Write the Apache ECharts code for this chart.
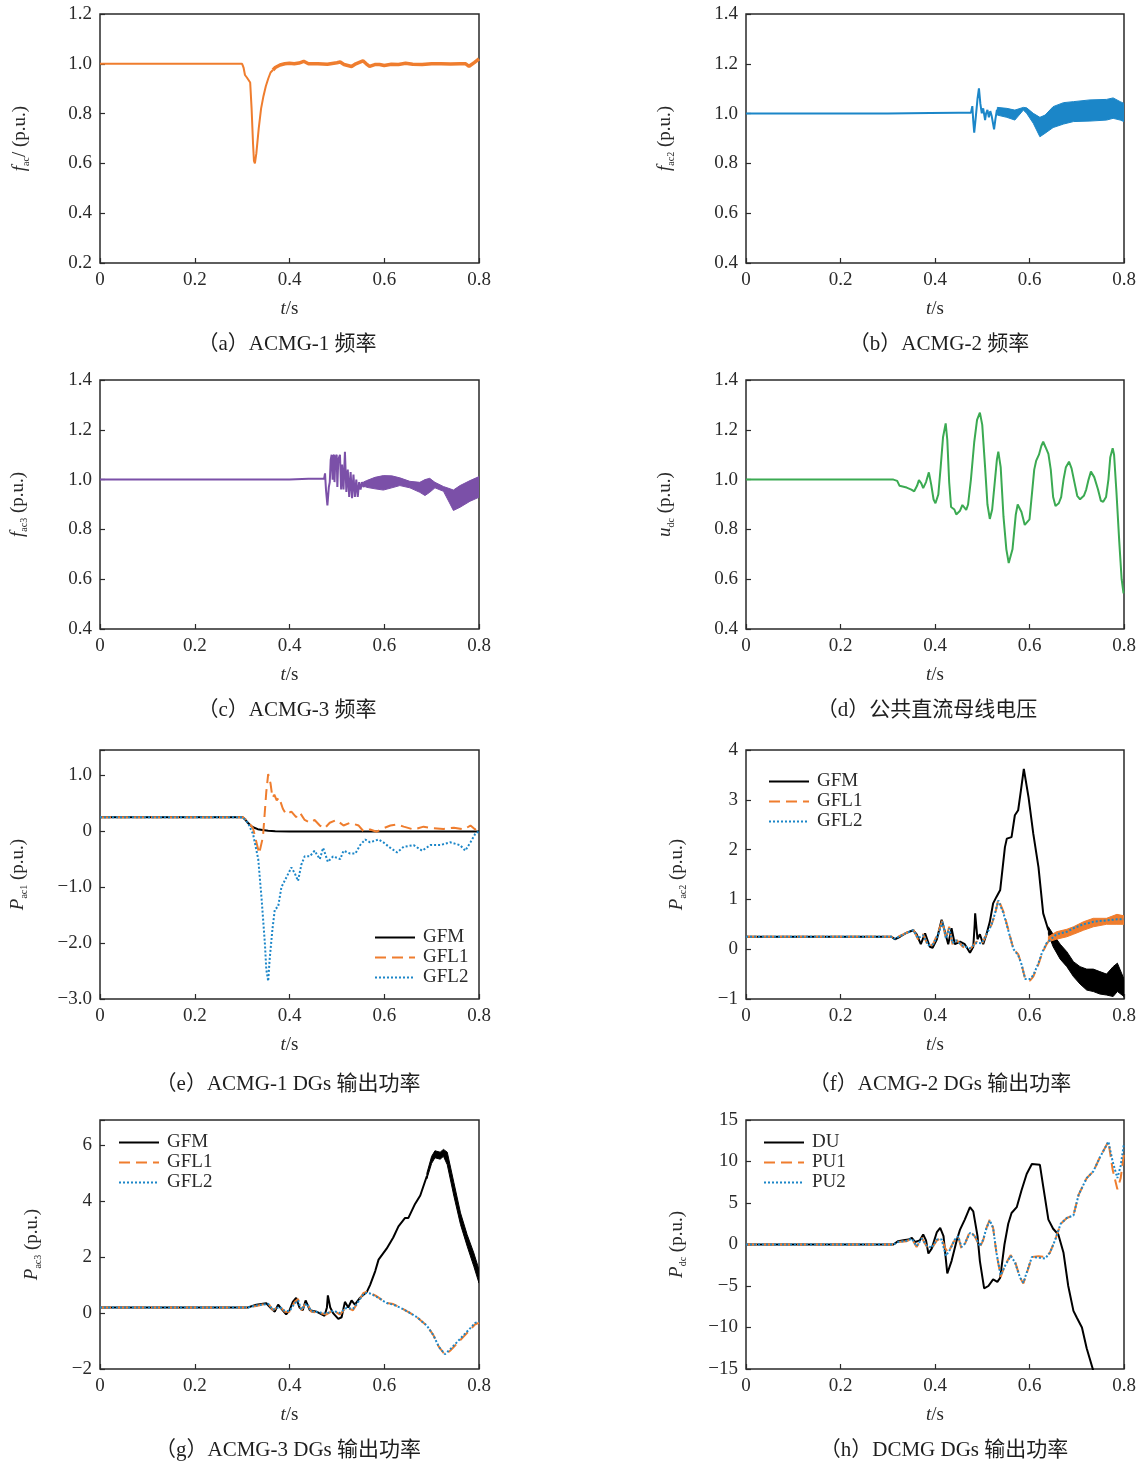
<!DOCTYPE html>
<html><head><meta charset="utf-8">
<script src="https://cdn.jsdelivr.net/npm/echarts@6/dist/echarts.min.js"></script>
<style>html,body{margin:0;padding:0;background:#fff}#c{width:1143px;height:1461px}</style>
</head><body><div id="c"></div>
<script>
// ---------- data (t in s, values in p.u.) ----------
const xTicks = [0, 0.2, 0.4, 0.6, 0.8];
const captions = ['（a）ACMG-1 频率','（b）ACMG-2 频率','（c）ACMG-3 频率','（d）公共直流母线电压',
  '（e）ACMG-1 DGs 输出功率','（f）ACMG-2 DGs 输出功率','（g）ACMG-3 DGs 输出功率','（h）DCMG DGs 输出功率'];
const legendAC = ['GFM','GFL1','GFL2'];
const legendDC = ['DU','PU1','PU2'];

// (a) f_ac1
const fac1Pre = [[0,1.0],[0.30,1.0],[0.303,0.985],[0.306,0.955],[0.310,0.945],[0.314,0.94],[0.317,0.925],[0.320,0.82],[0.323,0.68],[0.325,0.61],[0.327,0.60],[0.330,0.64],[0.335,0.74],[0.340,0.82],[0.345,0.87],[0.350,0.91],[0.355,0.94],[0.360,0.965],[0.365,0.975]];
const fac1Post = [[0.365,0.975],[0.37,0.985],[0.38,0.995],[0.39,1.0],[0.40,1.002],[0.41,1.0],[0.42,1.003],[0.43,1.01],[0.44,1.0],[0.46,1.0],[0.48,0.998],[0.50,1.004],[0.507,1.007],[0.515,0.997],[0.531,0.989],[0.54,1.0],[0.555,1.012],[0.562,1.0],[0.569,0.99],[0.58,0.997],[0.59,0.997],[0.60,0.993],[0.615,0.998],[0.63,0.997],[0.645,1.002],[0.66,0.998],[0.68,0.997],[0.70,1.0],[0.72,1.0],[0.74,0.999],[0.76,1.0],[0.772,1.0],[0.779,0.99],[0.79,1.005],[0.80,1.02]];

// (b) f_ac2
const fac2Line = [[0,1.0],[0.30,1.0],[0.39,1.002],[0.45,1.003],[0.476,1.003],[0.479,1.03],[0.481,0.97],[0.483,0.923],[0.486,0.98],[0.490,1.06],[0.493,1.101],[0.496,1.04],[0.499,1.001],[0.502,1.021],[0.506,0.974],[0.508,1.0],[0.511,1.015],[0.514,0.985],[0.517,1.01],[0.520,0.99],[0.525,0.937],[0.528,0.98],[0.531,1.015],[0.534,1.005]];
const fac2Up = [[0.532,1.025],[0.552,1.021],[0.569,1.014],[0.587,1.025],[0.594,1.023],[0.608,1.001],[0.622,0.985],[0.633,0.994],[0.65,1.028],[0.672,1.044],[0.693,1.048],[0.728,1.055],[0.763,1.057],[0.777,1.063],[0.792,1.048],[0.80,1.041]];
const fac2Lo = [[0.532,0.994],[0.552,0.985],[0.569,0.974],[0.587,1.014],[0.594,1.001],[0.608,0.961],[0.622,0.907],[0.633,0.921],[0.65,0.944],[0.672,0.958],[0.693,0.968],[0.728,0.970],[0.763,0.974],[0.777,0.981],[0.792,0.974],[0.80,0.968]];

// (c) f_ac3
const fac3Line = [[0,1.0],[0.40,1.0],[0.44,1.003],[0.473,1.003],[0.475,1.025],[0.477,0.96],[0.480,0.896],[0.483,0.97],[0.485,0.99],[0.487,1.08],[0.489,1.10],[0.491,1.0],[0.492,1.09],[0.494,1.10],[0.495,0.99],[0.497,1.09],[0.4996,1.10],[0.501,0.97],[0.503,1.08],[0.5065,1.10],[0.509,0.96],[0.511,1.06],[0.514,0.96],[0.517,1.112],[0.520,0.95],[0.523,1.04],[0.526,0.93],[0.529,1.03],[0.532,0.925],[0.535,1.02],[0.538,0.93],[0.541,1.0],[0.544,0.93],[0.547,0.99],[0.550,0.96],[0.553,0.99],[0.556,0.97],[0.56,0.985]];
const fac3Up = [[0.556,0.99],[0.5628,0.996],[0.5804,1.009],[0.598,1.016],[0.616,1.015],[0.633,1.007],[0.654,0.993],[0.675,0.989],[0.686,1.0],[0.696,1.005],[0.707,0.989],[0.725,0.972],[0.739,0.963],[0.746,0.958],[0.76,0.976],[0.781,0.996],[0.80,1.012]];
const fac3Lo = [[0.556,0.975],[0.5628,0.969],[0.5804,0.963],[0.598,0.958],[0.616,0.967],[0.633,0.976],[0.654,0.967],[0.675,0.949],[0.686,0.936],[0.696,0.949],[0.707,0.967],[0.725,0.953],[0.739,0.902],[0.746,0.876],[0.76,0.889],[0.781,0.913],[0.80,0.929]];

// (d) u_dc
const udc = [[0,1.0],[0.30,1.0],[0.312,1.0],[0.316,1.005],[0.32,0.995],[0.325,0.975],[0.34,0.968],[0.35,0.96],[0.356,0.953],[0.362,0.975],[0.366,0.998],[0.371,0.985],[0.375,0.966],[0.381,0.99],[0.387,1.029],[0.392,0.98],[0.397,0.92],[0.401,0.905],[0.407,0.94],[0.412,1.05],[0.417,1.17],[0.4226,1.226],[0.426,1.16],[0.43,0.99],[0.434,0.89],[0.437,0.885],[0.441,0.88],[0.445,0.86],[0.449,0.854],[0.453,0.875],[0.458,0.898],[0.462,0.89],[0.466,0.878],[0.47,0.9],[0.476,1.0],[0.483,1.15],[0.489,1.24],[0.495,1.269],[0.5,1.22],[0.506,1.05],[0.511,0.9],[0.516,0.842],[0.521,0.88],[0.527,1.0],[0.531,1.08],[0.534,1.112],[0.539,1.05],[0.545,0.85],[0.551,0.72],[0.556,0.665],[0.5587,0.657],[0.564,0.72],[0.571,0.86],[0.575,0.9],[0.578,0.907],[0.583,0.87],[0.59,0.818],[0.594,0.811],[0.6,0.84],[0.606,0.96],[0.61,1.04],[0.614,1.075],[0.62,1.1],[0.625,1.135],[0.629,1.152],[0.634,1.13],[0.64,1.103],[0.645,1.04],[0.65,0.93],[0.655,0.894],[0.662,0.905],[0.667,0.93],[0.672,1.0],[0.677,1.05],[0.6836,1.072],[0.689,1.045],[0.695,0.99],[0.701,0.935],[0.707,0.921],[0.715,0.935],[0.72,0.96],[0.725,1.0],[0.73,1.032],[0.737,1.01],[0.745,0.96],[0.751,0.915],[0.756,0.911],[0.762,0.93],[0.767,1.0],[0.771,1.09],[0.776,1.126],[0.779,1.1],[0.784,0.95],[0.79,0.75],[0.795,0.6],[0.799,0.543]];

// (e) P_ac1
const pac1GFM = [[0,0.25],[0.301,0.25],[0.306,0.21],[0.312,0.15],[0.318,0.10],[0.323,0.07],[0.333,0.035],[0.343,0.02],[0.355,0.008],[0.37,0.0],[0.40,-0.005],[0.50,-0.005],[0.60,-0.005],[0.70,-0.005],[0.80,-0.005]];
const pac1GFL1 = [[0,0.25],[0.301,0.25],[0.312,0.18],[0.323,0.05],[0.336,-0.40],[0.344,-0.1],[0.351,0.7],[0.355,1.02],[0.360,0.85],[0.364,0.6],[0.368,0.65],[0.373,0.55],[0.378,0.6],[0.386,0.4],[0.393,0.3],[0.404,0.35],[0.414,0.25],[0.422,0.33],[0.432,0.2],[0.443,0.15],[0.453,0.2],[0.464,0.1],[0.474,0.05],[0.485,0.15],[0.499,0.2],[0.514,0.1],[0.528,0.15],[0.546,0.1],[0.556,0.0],[0.570,0.03],[0.584,-0.01],[0.598,0.05],[0.613,0.1],[0.627,0.12],[0.641,0.08],[0.662,0.03],[0.683,0.08],[0.704,0.05],[0.725,0.04],[0.747,0.06],[0.768,0.03],[0.782,0.1],[0.792,0.03],[0.80,0.05]];
const pac1GFL2 = [[0,0.25],[0.301,0.25],[0.312,0.15],[0.323,-0.05],[0.334,-0.5],[0.341,-1.2],[0.348,-2.0],[0.351,-2.47],[0.355,-2.68],[0.358,-2.3],[0.364,-1.75],[0.369,-1.4],[0.376,-1.35],[0.383,-1.0],[0.392,-0.85],[0.404,-0.65],[0.411,-0.75],[0.418,-0.89],[0.425,-0.6],[0.432,-0.45],[0.443,-0.45],[0.453,-0.35],[0.464,-0.5],[0.471,-0.3],[0.481,-0.55],[0.492,-0.45],[0.507,-0.5],[0.514,-0.35],[0.528,-0.4],[0.539,-0.4],[0.549,-0.25],[0.56,-0.15],[0.57,-0.2],[0.588,-0.15],[0.598,-0.2],[0.613,-0.3],[0.627,-0.38],[0.641,-0.28],[0.662,-0.25],[0.68,-0.35],[0.697,-0.25],[0.718,-0.25],[0.739,-0.2],[0.76,-0.25],[0.771,-0.35],[0.782,-0.2],[0.792,-0.05],[0.80,0.0]];

// (f) P_ac2
const pac2GFM = [[0,0.25],[0.308,0.25],[0.315,0.2],[0.326,0.25],[0.34,0.33],[0.354,0.38],[0.361,0.3],[0.37,0.1],[0.379,0.32],[0.389,0.05],[0.395,0.03],[0.404,0.2],[0.414,0.59],[0.421,0.35],[0.428,0.1],[0.435,0.42],[0.442,0.1],[0.453,0.15],[0.463,0.1],[0.474,-0.07],[0.481,0.05],[0.484,0.5],[0.485,0.72],[0.488,0.4],[0.49,0.2],[0.495,0.3],[0.502,0.1],[0.509,0.3],[0.516,0.55],[0.523,0.92],[0.530,1.05],[0.538,1.19],[0.548,2.05],[0.552,2.22],[0.562,2.25],[0.569,2.69],[0.576,2.79],[0.582,3.2],[0.588,3.62],[0.598,3.05],[0.608,2.32],[0.619,1.65],[0.629,0.72],[0.640,0.38]];
const pac2GFMUp = [[0.640,0.45],[0.65,0.3],[0.665,0.1],[0.679,-0.05],[0.693,-0.25],[0.707,-0.35],[0.721,-0.4],[0.735,-0.4],[0.749,-0.45],[0.763,-0.5],[0.777,-0.35],[0.786,-0.28],[0.80,-0.6]];
const pac2GFMLo = [[0.640,0.30],[0.65,0.05],[0.665,-0.2],[0.679,-0.35],[0.693,-0.55],[0.707,-0.7],[0.721,-0.82],[0.735,-0.85],[0.749,-0.9],[0.763,-0.92],[0.777,-0.95],[0.786,-0.85],[0.80,-0.95]];
const pac2GFL1 = [[0,0.25],[0.308,0.25],[0.315,0.22],[0.34,0.33],[0.354,0.4],[0.364,0.2],[0.375,0.3],[0.386,0.05],[0.396,0.1],[0.407,0.35],[0.416,0.58],[0.423,0.2],[0.43,0.45],[0.437,0.1],[0.444,0.2],[0.459,0.05],[0.474,0.0],[0.488,0.15],[0.499,0.1],[0.509,0.3],[0.52,0.5],[0.527,0.7],[0.534,1.0],[0.545,0.75],[0.555,0.4],[0.566,0.0],[0.576,-0.1],[0.583,-0.3],[0.591,-0.6],[0.601,-0.63],[0.608,-0.55],[0.619,-0.3],[0.626,-0.1],[0.636,0.1],[0.645,0.22]];
const pac2GFL1Up = [[0.640,0.25],[0.657,0.35],[0.679,0.4],[0.693,0.45],[0.714,0.55],[0.735,0.62],[0.763,0.62],[0.785,0.7],[0.80,0.67]];
const pac2GFL1Lo = [[0.640,0.15],[0.657,0.2],[0.679,0.25],[0.693,0.3],[0.714,0.38],[0.735,0.45],[0.763,0.5],[0.785,0.5],[0.80,0.5]];
const pac2GFL2 = [[0,0.25],[0.308,0.25],[0.315,0.21],[0.34,0.33],[0.354,0.38],[0.364,0.22],[0.375,0.28],[0.386,0.08],[0.396,0.1],[0.407,0.3],[0.416,0.55],[0.423,0.22],[0.43,0.42],[0.437,0.12],[0.444,0.18],[0.459,0.07],[0.474,0.02],[0.488,0.13],[0.499,0.12],[0.509,0.3],[0.52,0.5],[0.527,0.72],[0.534,0.98],[0.545,0.72],[0.555,0.38],[0.566,0.0],[0.576,-0.12],[0.583,-0.3],[0.591,-0.6],[0.601,-0.6],[0.608,-0.52],[0.619,-0.28],[0.626,-0.08],[0.636,0.12],[0.657,0.3],[0.679,0.35],[0.693,0.42],[0.714,0.5],[0.735,0.55],[0.763,0.58],[0.785,0.6],[0.80,0.6]];

// (g) P_ac3
const pac3GFM = [[0,0.2],[0.312,0.2],[0.316,0.15],[0.33,0.3],[0.351,0.35],[0.362,0.15],[0.369,0.05],[0.376,0.3],[0.383,0.15],[0.393,-0.05],[0.4,0.1],[0.407,0.4],[0.414,0.54],[0.421,0.2],[0.428,0.1],[0.434,0.45],[0.443,0.1],[0.457,0.05],[0.474,-0.1],[0.479,0.2],[0.481,0.63],[0.486,0.2],[0.492,0.0],[0.503,-0.21],[0.51,-0.15],[0.517,0.4],[0.524,0.2],[0.531,0.45],[0.538,0.3],[0.549,0.55],[0.563,0.75],[0.57,1.0],[0.581,1.5],[0.588,1.91],[0.605,2.3],[0.619,2.7],[0.63,3.1],[0.644,3.4],[0.651,3.4],[0.665,3.9],[0.676,4.2],[0.69,4.9]];
const pac3GFMUp = [[0.69,5.0],[0.70,5.6],[0.707,5.8],[0.718,5.75],[0.725,5.85],[0.733,5.75],[0.747,4.66],[0.761,3.58],[0.775,2.8],[0.789,2.15],[0.80,1.55]];
const pac3GFMLo = [[0.69,4.8],[0.70,5.35],[0.707,5.55],[0.718,5.5],[0.725,5.6],[0.733,5.3],[0.747,4.18],[0.761,3.16],[0.775,2.39],[0.789,1.67],[0.80,1.07]];
const pac3GFL1 = [[0,0.2],[0.312,0.2],[0.33,0.25],[0.355,0.35],[0.365,0.1],[0.379,0.25],[0.39,0.05],[0.4,0.05],[0.411,0.4],[0.418,0.5],[0.425,0.1],[0.436,0.4],[0.446,0.05],[0.464,0.0],[0.478,-0.05],[0.492,0.1],[0.506,-0.05],[0.52,0.2],[0.534,0.1],[0.545,0.4],[0.556,0.72],[0.563,0.75],[0.57,0.72],[0.584,0.6],[0.605,0.36],[0.619,0.32],[0.633,0.2],[0.655,0.0],[0.669,-0.15],[0.69,-0.45],[0.704,-0.8],[0.715,-1.2],[0.728,-1.49],[0.739,-1.35],[0.753,-1.1],[0.767,-0.85],[0.781,-0.6],[0.792,-0.4],[0.80,-0.35]];
const pac3GFL2 = [[0,0.2],[0.312,0.2],[0.33,0.27],[0.355,0.33],[0.365,0.12],[0.379,0.22],[0.39,0.08],[0.4,0.07],[0.411,0.35],[0.418,0.45],[0.425,0.12],[0.436,0.35],[0.446,0.07],[0.464,0.02],[0.478,-0.02],[0.492,0.08],[0.506,0.0],[0.52,0.18],[0.534,0.15],[0.545,0.4],[0.556,0.68],[0.563,0.72],[0.57,0.7],[0.584,0.58],[0.605,0.36],[0.619,0.3],[0.633,0.2],[0.655,0.0],[0.669,-0.15],[0.69,-0.45],[0.704,-0.8],[0.715,-1.2],[0.728,-1.47],[0.739,-1.3],[0.753,-1.05],[0.767,-0.8],[0.781,-0.55],[0.792,-0.35],[0.80,-0.3]];

// (h) P_dc
const pdcDU = [[0,0],[0.312,0],[0.322,0.4],[0.333,0.5],[0.344,0.6],[0.351,0.8],[0.358,0.3],[0.368,0.5],[0.375,1.2],[0.381,0.5],[0.386,-1.08],[0.393,-0.5],[0.404,1.5],[0.411,2.0],[0.418,1.0],[0.426,-3.49],[0.435,-2.0],[0.446,0.5],[0.453,1.8],[0.463,3.0],[0.474,4.49],[0.481,4.0],[0.49,1.0],[0.495,-2.0],[0.504,-5.29],[0.513,-5.0],[0.523,-4.2],[0.532,-4.5],[0.538,-4.0],[0.547,0.0],[0.555,2.5],[0.562,3.8],[0.573,4.5],[0.583,6.5],[0.594,8.5],[0.605,9.7],[0.622,9.6],[0.629,7.0],[0.64,3.0],[0.65,1.9],[0.661,1.2],[0.672,-1.0],[0.682,-5.0],[0.693,-8.0],[0.7,-8.8],[0.711,-10.0],[0.721,-12.5],[0.735,-15.2],[0.74,-16.5]];
const pdcPU1 = [[0,0],[0.312,0],[0.322,0.3],[0.34,0.4],[0.351,0.7],[0.361,-0.3],[0.372,0.8],[0.382,-0.2],[0.393,-0.5],[0.404,0.5],[0.414,0.8],[0.421,-0.4],[0.428,-1.0],[0.439,0.3],[0.449,1.0],[0.456,-0.5],[0.463,0.0],[0.474,1.6],[0.484,1.0],[0.495,-0.3],[0.502,0.5],[0.509,2.0],[0.516,3.0],[0.523,2.0],[0.53,-1.0],[0.539,-3.89],[0.548,-2.5],[0.56,-1.28],[0.569,-2.0],[0.58,-4.0],[0.587,-4.69],[0.594,-3.5],[0.605,-1.5],[0.619,-1.4],[0.633,-1.5],[0.643,-1.0],[0.654,0.5],[0.666,2.5],[0.679,3.2],[0.693,3.5],[0.704,6.0],[0.721,8.0],[0.735,8.8],[0.749,10.5],[0.767,12.4],[0.776,9.0],[0.786,6.65],[0.793,8.0],[0.80,11.0]];
const pdcPU2 = [[0,0],[0.312,0],[0.322,0.3],[0.34,0.45],[0.351,0.7],[0.361,-0.2],[0.372,0.7],[0.382,-0.1],[0.393,-0.4],[0.404,0.6],[0.414,0.6],[0.423,-1.36],[0.432,-0.6],[0.442,0.6],[0.449,1.0],[0.456,-0.3],[0.463,0.1],[0.474,1.4],[0.484,1.1],[0.495,-0.2],[0.502,0.6],[0.509,2.0],[0.516,2.9],[0.523,2.0],[0.53,-1.0],[0.539,-3.7],[0.548,-2.6],[0.56,-1.4],[0.569,-2.1],[0.58,-4.0],[0.587,-4.6],[0.594,-3.4],[0.605,-1.5],[0.622,-1.6],[0.633,-1.7],[0.643,-1.0],[0.654,0.5],[0.666,2.5],[0.679,3.2],[0.693,3.5],[0.704,6.0],[0.721,8.0],[0.735,8.8],[0.749,10.5],[0.767,12.4],[0.776,10.0],[0.786,8.0],[0.793,9.5],[0.80,12.2]];

// ---------- styling ----------
const FONT = '"Liberation Serif","Times New Roman",serif';
const CJK = '"Liberation Serif","Noto Sans CJK SC",serif';
const INK = '#2a2a2a';
const ORANGE = '#EF7D2E', BLUE = '#1B86C8', PURPLE = '#7B50A8', GREEN = '#3BAA52', BLACK = '#000';
const rich = {
  i: {fontFamily: FONT, fontStyle: 'italic', fontSize: 19, lineHeight: 22, color: INK},
  s: {fontFamily: FONT, fontSize: 10, lineHeight: 12, verticalAlign: 'bottom', color: INK},
  n: {fontFamily: FONT, fontSize: 19, lineHeight: 22, color: INK}
};
const grids = [
  {left: 100, top: 14, width: 379, height: 249}, {left: 746, top: 14, width: 378, height: 249},
  {left: 100, top: 380, width: 379, height: 249}, {left: 746, top: 380, width: 378, height: 249},
  {left: 100, top: 750, width: 379, height: 249}, {left: 746, top: 750, width: 378, height: 249},
  {left: 100, top: 1120, width: 379, height: 249}, {left: 746, top: 1120, width: 378, height: 249}
].map(g => Object.assign({show: true, borderColor: INK, borderWidth: 1.5, backgroundColor: 'transparent'}, g));

const neg = s => s.replace('-', '−');
const f1 = v => v.toFixed(1);
const fE = v => { if (Math.abs(v - Math.round(v)) > 1e-6) return ''; const r = Math.round(v); return r === 0 ? '0' : neg(r.toFixed(1)); };
const fStep = st => v => { const r = Math.round(v); if (Math.abs(v - r) > 1e-6 || r % st !== 0) return ''; return neg(String(r)); };

function xAx(i) {
  return {type: 'value', gridIndex: i, min: 0, max: 0.8, interval: 0.2,
    axisLine: {show: false, onZero: false}, splitLine: {show: false},
    axisTick: {show: true, inside: true, length: 5, lineStyle: {color: INK, width: 1.2}},
    axisLabel: {margin: 8, fontFamily: FONT, fontSize: 19, color: INK,
      formatter: v => (Math.abs(v) < 1e-9 ? '0' : xTicks.includes(+v.toFixed(1)) ? v.toFixed(1) : '')},
    name: '{i|t}{n|/s}', nameLocation: 'middle', nameGap: 35, nameTextStyle: {rich}};
}
function yAx(i, min, max, interval, name, gap, fmt) {
  return {type: 'value', gridIndex: i, min, max, interval,
    axisLine: {show: false, onZero: false}, splitLine: {show: false},
    axisTick: {show: true, inside: true, length: 5, lineStyle: {color: INK, width: 1.2}},
    axisLabel: {margin: 8, fontFamily: FONT, fontSize: 19, color: INK, formatter: fmt},
    name, nameLocation: 'middle', nameRotate: 90, nameGap: gap, nameTextStyle: {rich}};
}
function line(name, gi, data, color, width, dash, z) {
  return {type: 'line', name, xAxisIndex: gi, yAxisIndex: gi, data, symbol: 'none', showSymbol: false,
    clip: true, silent: true, z: z || 2, lineStyle: {color, width, type: dash || 'solid'}, itemStyle: {color}};
}
function band(name, gi, up, lo, color, z) {
  return {type: 'custom', name, xAxisIndex: gi, yAxisIndex: gi, clip: true, silent: true, z: z || 2,
    data: up, encode: {x: 0, y: 1},
    renderItem(params, api) {
      if (params.dataIndex !== 0) return null;
      const pts = up.map(p => api.coord(p)).concat(lo.slice().reverse().map(p => api.coord(p)));
      return {type: 'polygon', shape: {points: pts}, style: {fill: color, stroke: color, lineWidth: 1}};
    }};
}
const DASH = [11, 6], DOT = [2, 2];

const series = [
  line('a1', 0, fac1Pre, ORANGE, 2),
  line('a2', 0, fac1Post, ORANGE, 3.5),
  line('b1', 1, fac2Line, BLUE, 2),
  band('b2', 1, fac2Up, fac2Lo, BLUE),
  line('c1', 2, fac3Line, PURPLE, 2),
  band('c2', 2, fac3Up, fac3Lo, PURPLE),
  line('d1', 3, udc, GREEN, 2),
  line('GFM', 4, pac1GFM, BLACK, 2),
  line('GFL1', 4, pac1GFL1, ORANGE, 2, DASH),
  line('GFL2', 4, pac1GFL2, BLUE, 2, DOT),
  line('GFM', 5, pac2GFM, BLACK, 2),
  band('f-gfm', 5, pac2GFMUp, pac2GFMLo, BLACK),
  line('GFL1', 5, pac2GFL1, ORANGE, 2, DASH),
  band('f-gfl1', 5, pac2GFL1Up, pac2GFL1Lo, ORANGE),
  line('GFL2', 5, pac2GFL2, BLUE, 2, DOT),
  line('GFM', 6, pac3GFM, BLACK, 2),
  band('g-gfm', 6, pac3GFMUp, pac3GFMLo, BLACK),
  line('GFL1', 6, pac3GFL1, ORANGE, 2, DASH),
  line('GFL2', 6, pac3GFL2, BLUE, 2, DOT),
  line('DU', 7, pdcDU, BLACK, 2),
  line('PU1', 7, pdcPU1, ORANGE, 2, DASH),
  line('PU2', 7, pdcPU2, BLUE, 2, DOT)
];

const legText = {fontFamily: FONT, fontSize: 19, color: INK, padding: [0, 0, 0, 3]};
const leg = (data, left, top) => ({data, left, top, orient: 'vertical', itemGap: 1, itemWidth: 40, itemHeight: 20,
  selectedMode: false, textStyle: legText, itemStyle: {opacity: 0, borderWidth: 0}});

const capPos = [[287, 343], [939, 343], [287, 709], [927, 709], [288, 1083], [940, 1083], [288, 1449], [944, 1449]];

const option = {
  animation: false,
  backgroundColor: '#fff',
  grid: grids,
  xAxis: [0, 1, 2, 3, 4, 5, 6, 7].map(xAx),
  yAxis: [
    yAx(0, 0.2, 1.2, 0.2, '{i|f}{s|ac}{n|/ (p.u.)}', 69, f1),
    yAx(1, 0.4, 1.4, 0.2, '{i|f}{s|ac2}{n| (p.u.)}', 70, f1),
    yAx(2, 0.4, 1.4, 0.2, '{i|f}{s|ac3}{n| (p.u.)}', 71, f1),
    yAx(3, 0.4, 1.4, 0.2, '{i|u}{s|dc}{n| (p.u.)}', 70, f1),
    yAx(4, -3, 1.45, 1, '{i|P}{s|ac1}{n| (p.u.)}', 71, fE),
    yAx(5, -1, 4, 1, '{i|P}{s|ac2}{n| (p.u.)}', 58, fStep(1)),
    yAx(6, -2, 6.9, 2, '{i|P}{s|ac3}{n| (p.u.)}', 57, fStep(2)),
    yAx(7, -15, 15, 5, '{i|P}{s|dc}{n| (p.u.)}', 58, fStep(5))
  ],
  legend: [
    leg(legendAC, 369, 923),
    leg(legendAC, 763, 767),
    leg(legendAC, 113, 1128),
    leg(legendDC, 758, 1128)
  ],
  graphic: captions.map((t, k) => ({type: 'text', x: capPos[k][0], y: capPos[k][1] + 1, silent: true,
    style: {text: t, align: 'center', verticalAlign: 'middle', fontFamily: CJK, fontSize: 21, fill: '#1e1e1e'}})),
  series
};
const chart = echarts.init(document.getElementById('c'), null, {renderer: 'canvas'});
chart.setOption(option);
</script>
</body></html>
